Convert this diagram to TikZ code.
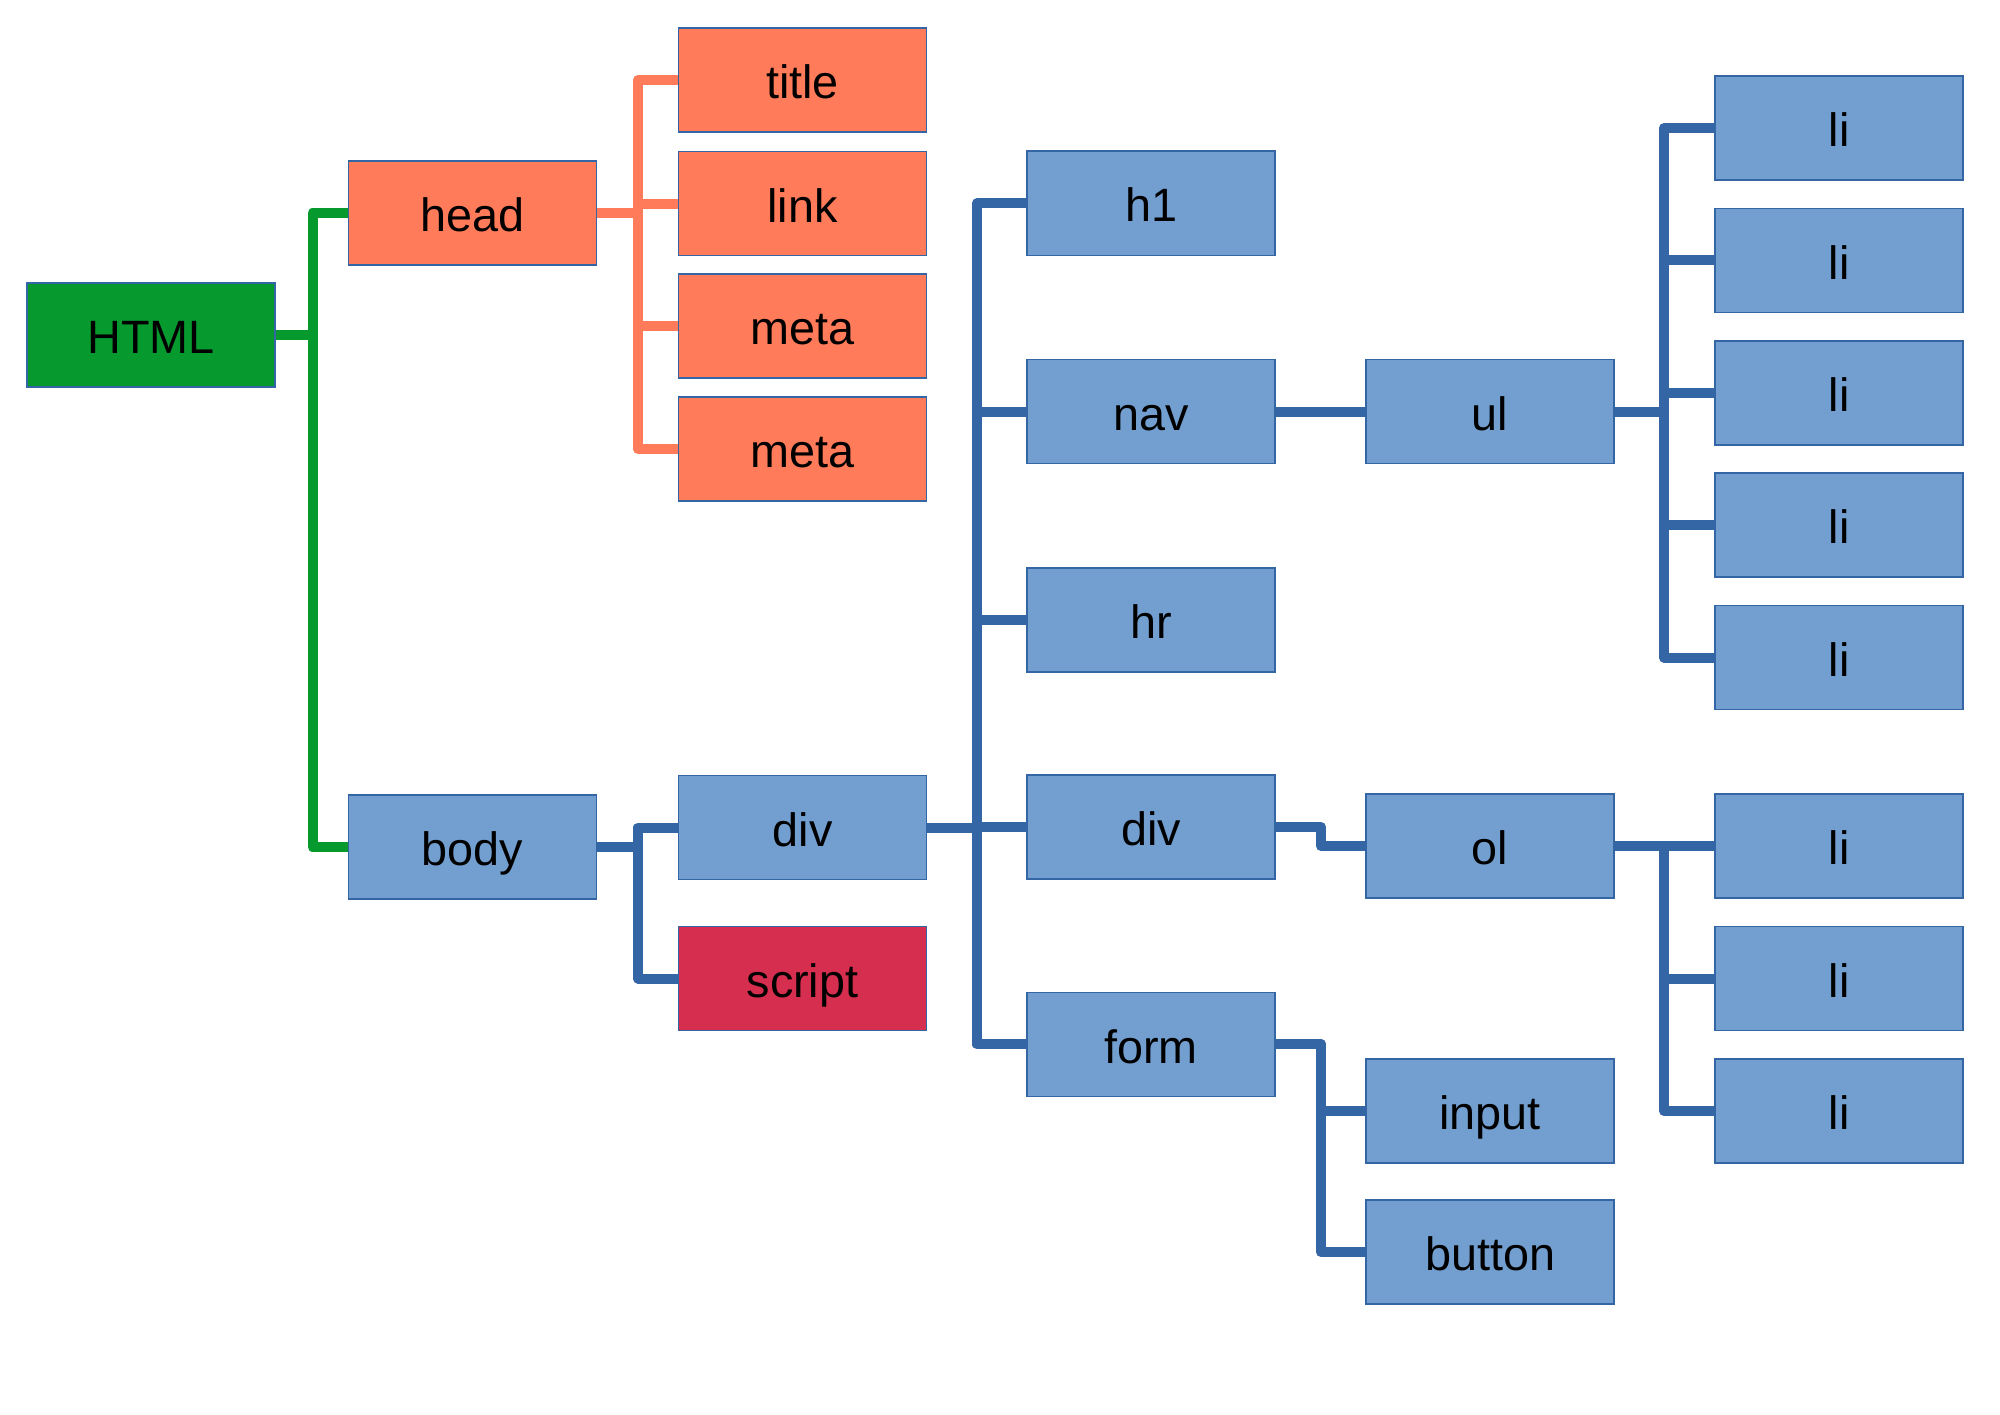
\documentclass[tikz,border=0pt]{standalone}
\usepackage{fontspec}
\setmainfont{Liberation Sans}
\usetikzlibrary{backgrounds}
\definecolor{cgreen}{HTML}{069A2E}
\definecolor{corange}{HTML}{FF7B59}
\definecolor{cbox}{HTML}{729FCF}
\definecolor{cline}{HTML}{3465A4}
\definecolor{cred}{HTML}{D62E4E}
\begin{document}
\begin{tikzpicture}[x=0.01cm,y=-0.01cm,
  box/.style={draw=cline,line width=0.45pt,minimum width=2.48cm,minimum height=1.04cm,
    inner sep=0pt,text height=1.2em,text depth=0.14em,
    font=\fontsize{13.3pt}{16pt}\selectfont},
  bluebox/.style={box,fill=cbox},
  orangebox/.style={box,fill=corange},
  greenbox/.style={box,fill=cgreen},
  redbox/.style={box,fill=cred},
  conn/.style={line width=0.1cm,line join=round,line cap=butt},
  gconn/.style={conn,draw=cgreen},
  oconn/.style={conn,draw=corange},
  bconn/.style={conn,draw=cline}]
\useasboundingbox (0,0) rectangle (2000,1414);
% nodes
\node[greenbox] (html) at (151,335) {HTML};
\node[orangebox] (head) at (472.5,213) {head};
\node[bluebox] (body) at (472.5,847) {body};
\node[orangebox] (title) at (802.5,80) {title};
\node[orangebox] (link) at (802.5,203.5) {link};
\node[orangebox] (metaa) at (802.5,326) {meta};
\node[orangebox] (metab) at (802.5,449) {meta};
\node[bluebox] (diva) at (802.5,827.5) {div};
\node[redbox] (script) at (802.5,978.5) {script};
\node[bluebox] (h1) at (1151,203.3) {h1};
\node[bluebox] (nav) at (1151,411.5) {nav};
\node[bluebox] (hr) at (1151,620) {hr};
\node[bluebox] (divb) at (1151,827) {div};
\node[bluebox] (form) at (1151,1044.4) {form};
\node[bluebox] (ul) at (1490,411.5) {ul};
\node[bluebox] (ol) at (1490,846) {ol};
\node[bluebox] (input) at (1490,1111) {input};
\node[bluebox] (button) at (1490,1252) {button};
\node[bluebox] (lia) at (1839,128) {li};
\node[bluebox] (lib) at (1839,260.4) {li};
\node[bluebox] (lic) at (1839,392.8) {li};
\node[bluebox] (lid) at (1839,525.2) {li};
\node[bluebox] (lie) at (1839,657.6) {li};
\node[bluebox] (lif) at (1839,846) {li};
\node[bluebox] (lig) at (1839,978.5) {li};
\node[bluebox] (lih) at (1839,1111) {li};
% trunk positions
\coordinate (tg) at (312.5,0);
\coordinate (to) at (638,0);
\coordinate (tb) at (638,0);
\coordinate (td) at (977,0);
\coordinate (tu) at (1664,0);
\coordinate (tf) at (1321,0);
\begin{scope}[on background layer]
\fill[white] (0,0) rectangle (2000,1414);
% HTML children
\foreach \c in {head,body}
  \draw[gconn] (html.east) -- (html.east -| tg) -- (\c.west -| tg) -- (\c.west);
% head children
\foreach \c in {title,link,metaa,metab}
  \draw[oconn] (head.east) -- (head.east -| to) -- (\c.west -| to) -- (\c.west);
% body children
\foreach \c in {diva,script}
  \draw[bconn] (body.east) -- (body.east -| tb) -- (\c.west -| tb) -- (\c.west);
% div children
\foreach \c in {h1,nav,hr,divb,form}
  \draw[bconn] (diva.east) -- (diva.east -| td) -- (\c.west -| td) -- (\c.west);
% nav -> ul
\draw[bconn] (nav.east) -- (ul.west);
% ul children
\foreach \c in {lia,lib,lic,lid,lie}
  \draw[bconn] (ul.east) -- (ul.east -| tu) -- (\c.west -| tu) -- (\c.west);
% div -> ol
\draw[bconn] (divb.east) -- (divb.east -| tf) -- (ol.west -| tf) -- (ol.west);
% ol children
\foreach \c in {lif,lig,lih}
  \draw[bconn] (ol.east) -- (ol.east -| tu) -- (\c.west -| tu) -- (\c.west);
% form children
\foreach \c in {input,button}
  \draw[bconn] (form.east) -- (form.east -| tf) -- (\c.west -| tf) -- (\c.west);
\end{scope}
\end{tikzpicture}
\end{document}
